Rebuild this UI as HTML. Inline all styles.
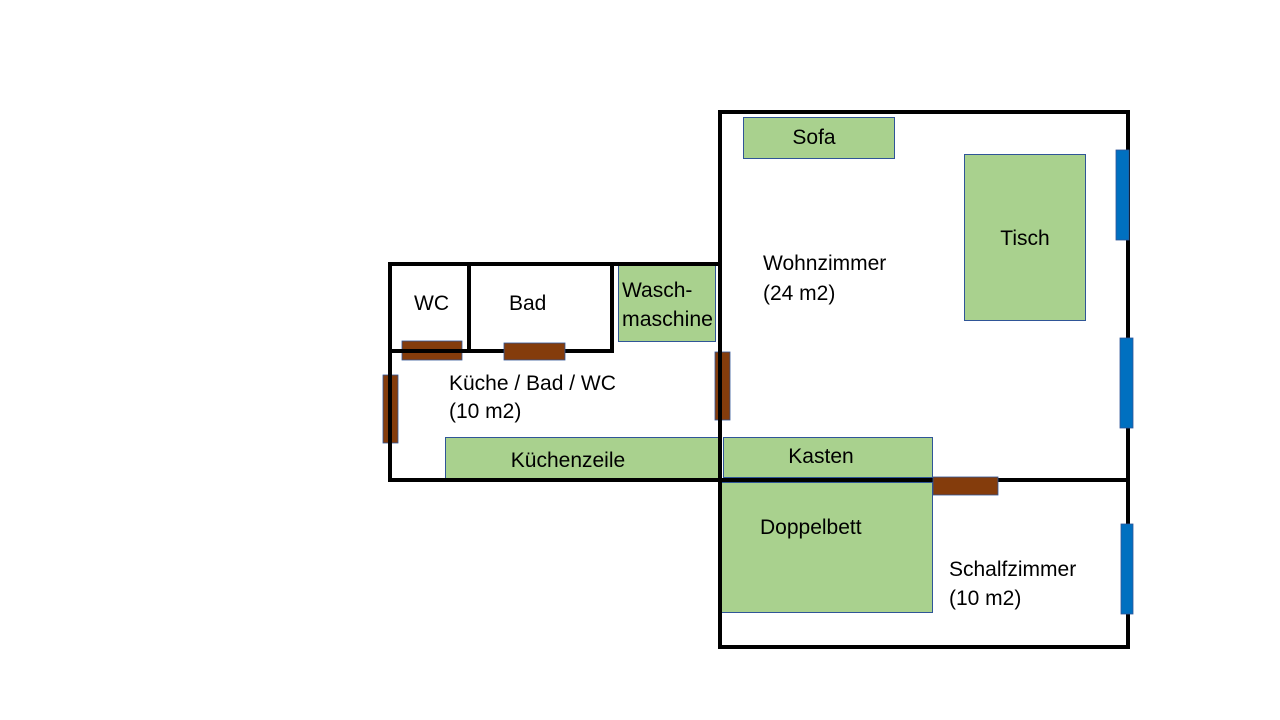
<!DOCTYPE html>
<html><head><meta charset="utf-8"><style>
html,body{margin:0;padding:0;background:#fff;width:1280px;height:720px;overflow:hidden}
text{font-family:"Liberation Sans",sans-serif;font-size:21px;fill:#000}
</style></head><body>
<svg width="1280" height="720" viewBox="0 0 1280 720" xmlns="http://www.w3.org/2000/svg">
<g fill="#a9d18e" stroke="#2f5597" stroke-width="1">
<rect x="743.5" y="117.5" width="151" height="41"/>
<rect x="964.5" y="154.5" width="121" height="166"/>
<rect x="618.5" y="265.5" width="97" height="76"/>
<rect x="445.5" y="437.5" width="274" height="41"/>
<rect x="723.5" y="437.5" width="209" height="40"/>
<rect x="720.5" y="482.5" width="212" height="130"/>
</g>
<g fill="#843c0c" stroke="#2f5597" stroke-width="0.8">
<rect x="402" y="341" width="60" height="19"/>
<rect x="383" y="375" width="15" height="68"/>
<rect x="715" y="352" width="15" height="68"/>
</g>
<g fill="none" stroke="#000" stroke-width="4">
<rect x="720" y="112" width="408" height="535"/>
<line x1="720" y1="480" x2="1128" y2="480"/>
<rect x="390" y="264" width="330" height="216"/>
<line x1="469" y1="264" x2="469" y2="351"/>
<polyline points="390,351 612,351 612,264"/>
</g>
<g fill="#843c0c" stroke="#2f5597" stroke-width="0.8">
<rect x="504" y="343" width="61" height="17"/>
<rect x="933" y="477" width="65" height="18"/>
</g>
<g fill="#0070c0" stroke="#2f5597" stroke-width="0.8">
<rect x="1116" y="150" width="13" height="90"/>
<rect x="1120" y="338" width="13" height="90"/>
<rect x="1121" y="524" width="12" height="90"/>
</g>
<text x="814" y="144" text-anchor="middle">Sofa</text>
<text x="1025" y="245" text-anchor="middle">Tisch</text>
<text x="763" y="270">Wohnzimmer</text>
<text x="763" y="300">(24 m2)</text>
<text x="414" y="310">WC</text>
<text x="509" y="310">Bad</text>
<text x="622" y="297">Wasch-</text>
<text x="622" y="326" textLength="91" lengthAdjust="spacingAndGlyphs">maschine</text>
<text x="449" y="390">Küche / Bad / WC</text>
<text x="449" y="418">(10 m2)</text>
<text x="568" y="467" text-anchor="middle">Küchenzeile</text>
<text x="821" y="463" text-anchor="middle">Kasten</text>
<text x="760" y="534">Doppelbett</text>
<text x="949" y="576">Schalfzimmer</text>
<text x="949" y="605">(10 m2)</text>
</svg>
</body></html>
